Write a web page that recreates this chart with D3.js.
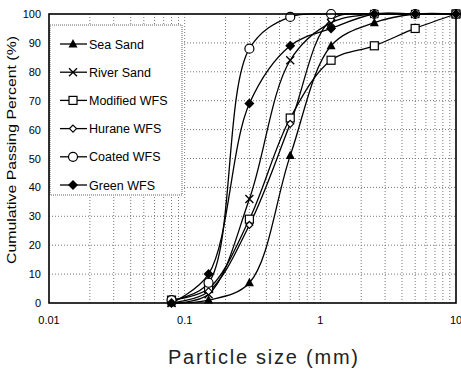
<!DOCTYPE html>
<html><head><meta charset="utf-8">
<script src="https://cdn.jsdelivr.net/npm/d3@7"></script>
<style>body{margin:0;background:#fff}svg{display:block}text{font-family:"Liberation Sans",Arial,sans-serif}</style>
</head><body>
<svg id="c" width="461" height="373"></svg>
<script>
const sizes = [0.08, 0.15, 0.3, 0.6, 1.2, 2.5, 5, 10];
const seaSand     = [0, 1, 7, 51, 89, 97, 100, 100];
const riverSand   = [0, 3, 36, 84, 97, 100, 100, 100];
const modifiedWFS = [1, 5, 29, 64, 84, 89, 95, 100];
const huraneWFS   = [0, 4, 27, 62, 98, 100, 100, 100];
const coatedWFS   = [1, 7, 88, 99, 100, 100, 100, 100];
const greenWFS    = [0, 10, 69, 89, 95, 100, 100, 100];
const seriesNames = ["Sea Sand","River Sand","Modified WFS","Hurane WFS","Coated WFS","Green WFS"];
const seriesValues = [seaSand, riverSand, modifiedWFS, huraneWFS, coatedWFS, greenWFS];
const markerTypes = ["triangle","x","square","smalldiamond","circle","diamond"];
const xTicks = [0.01, 0.1, 1, 10];
const xTickLabels = ["0.01","0.1","1","10"];
const yTicks = [0,10,20,30,40,50,60,70,80,90,100];

const svg = d3.select("#c");
const L=49, R=456, T=14, B=303;
const x = d3.scaleLog().domain([0.01,10]).range([L,R]);
const y = d3.scaleLinear().domain([0,100]).range([B,T]);

// grid
const minor = [];
[0.01,0.1,1].forEach(d=>{for(let k=2;k<=9;k++) minor.push(d*k);});
const g = svg.append("g");
g.selectAll(".vg").data(minor.concat([0.1,1])).join("line")
  .attr("x1",d=>x(d)).attr("x2",d=>x(d)).attr("y1",T).attr("y2",B)
  .attr("stroke","#777").attr("stroke-width",1).attr("stroke-dasharray","1,2");
g.selectAll(".hg").data(yTicks.slice(1,-1)).join("line")
  .attr("x1",L).attr("x2",R).attr("y1",d=>y(d)).attr("y2",d=>y(d))
  .attr("stroke","#777").attr("stroke-width",1).attr("stroke-dasharray","1,2");

// legend box
const lg = svg.append("g");
lg.append("rect").attr("x",L+1).attr("y",25).attr("width",132).attr("height",170)
  .attr("fill","#fff").attr("stroke","#666").attr("stroke-width",1).attr("stroke-dasharray","1,1");

// lines
const line = d3.line().x(d=>x(d[0])).y(d=>y(d[1])).curve(d3.curveCatmullRom.alpha(0.5));
const plot = svg.append("g");
seriesValues.forEach(vals=>{
  plot.append("path").datum(sizes.map((s,i)=>[s,vals[i]]))
    .attr("d",line).attr("fill","none").attr("stroke","#000").attr("stroke-width",1.3);
});

function marker(sel, type, cx, cy){
  const gg = sel.append("g").attr("transform",`translate(${cx},${cy})`);
  if(type==="triangle") gg.append("path").attr("d","M0,-5L4.5,3.5L-4.5,3.5Z").attr("fill","#000");
  else if(type==="x") gg.append("path").attr("d","M-4,-4L4,4M-4,4L4,-4").attr("stroke","#000").attr("stroke-width",1.3);
  else if(type==="square") gg.append("rect").attr("x",-4).attr("y",-4).attr("width",8).attr("height",8).attr("fill","#fff").attr("stroke","#000").attr("stroke-width",1.2);
  else if(type==="smalldiamond") gg.append("path").attr("d","M0,-3.5L3.5,0L0,3.5L-3.5,0Z").attr("fill","#fff").attr("stroke","#000").attr("stroke-width",1.2);
  else if(type==="circle") gg.append("circle").attr("r",4.5).attr("fill","#fff").attr("stroke","#000").attr("stroke-width",1.2);
  else if(type==="diamond") gg.append("path").attr("d","M0,-5L5,0L0,5L-5,0Z").attr("fill","#000");
}
seriesValues.forEach((vals,si)=>{
  sizes.forEach((s,i)=>marker(plot, markerTypes[si], x(s), y(vals[i])));
});

// frame
svg.append("rect").attr("x",L).attr("y",T).attr("width",R-L).attr("height",B-T)
  .attr("fill","none").attr("stroke","#000").attr("stroke-width",1.6);

// legend items
seriesNames.forEach((n,i)=>{
  const ly = 44 + i*28.2;
  lg.append("line").attr("x1",60).attr("x2",87).attr("y1",ly).attr("y2",ly).attr("stroke","#000").attr("stroke-width",1.3);
  marker(lg, markerTypes[i], 73, ly);
  lg.append("text").attr("x",89).attr("y",ly+4.5).attr("font-size",12.5).text(n);
});

// axes labels
svg.selectAll(".yt").data(yTicks).join("text")
  .attr("x",41).attr("y",d=>y(d)+4).attr("text-anchor","end").attr("font-size",11).text(d=>d);
svg.selectAll(".xt").data(xTicks).join("text")
  .attr("x",d=>x(d)).attr("y",324).attr("text-anchor","middle").attr("font-size",11)
  .text((d,i)=>xTickLabels[i]);

svg.append("text").attr("transform","translate(16,150) rotate(-90)").attr("text-anchor","middle")
  .attr("font-size",13.5).attr("textLength",228).attr("lengthAdjust","spacingAndGlyphs")
  .text("Cumulative Passing Percent (%)");
svg.append("text").attr("x",263).attr("y",364).attr("text-anchor","middle")
  .attr("font-size",20).attr("fill","#222").attr("textLength",190).attr("lengthAdjust","spacing")
  .text("Particle size (mm)");
</script>
</body></html>
